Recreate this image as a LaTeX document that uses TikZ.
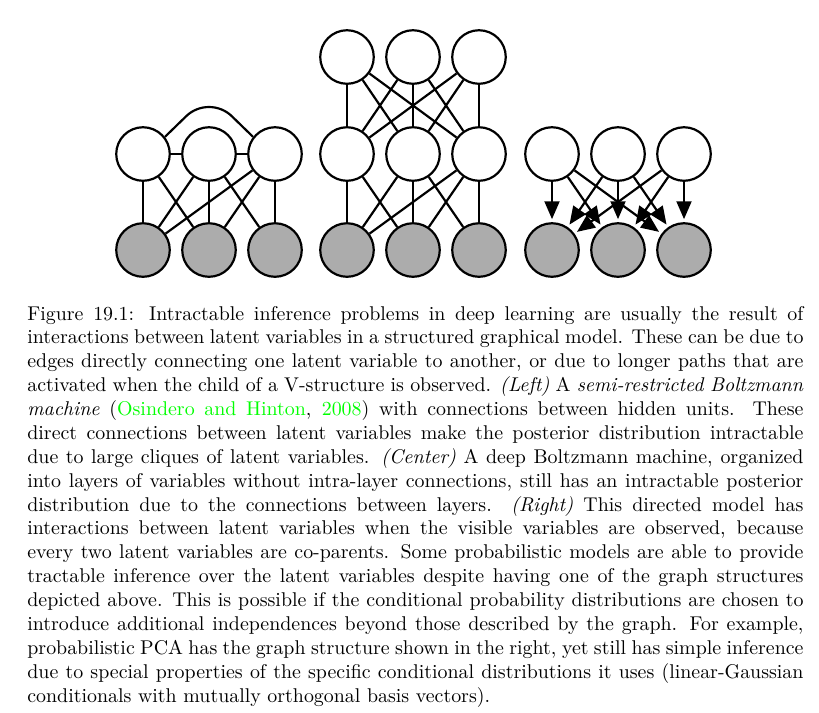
\documentclass[tikz,border=0pt]{standalone}
\usetikzlibrary{arrows.meta}
\definecolor{obs}{RGB}{172,172,172}
\definecolor{citegreen}{rgb}{0,1,0}
\newcommand\capline[1]{\hbox to 390pt{#1}}
\begin{document}
\begin{tikzpicture}[x=0.5025pt,y=-0.5025pt,
  hid/.style={circle,draw,line width=1.1pt,fill=white,minimum size=26.9pt,inner sep=0pt},
  vis/.style={hid,fill=obs},
  edge/.style={line width=1.1pt},
  arr/.style={line width=1.1pt,-{Triangle[length=9pt,width=7.5pt]},shorten >=1.5pt}]
\useasboundingbox (0,0) rectangle (819,712);
% ---------- left: semi-restricted Boltzmann machine
\node[hid] (la) at (143,154) {};
\node[hid] (lb) at (209,154) {};
\node[hid] (lc) at (275,154) {};
\node[vis] (lx) at (143,250) {};
\node[vis] (ly) at (209,250) {};
\node[vis] (lz) at (275,250) {};
\draw[edge] (la) -- (lb);
\draw[edge] (lb) -- (lc);
\draw[edge,rounded corners=16pt] (la.38) -- (209,94) -- (lc.142);
\foreach \a/\b in {la/lx,la/ly,lb/lx,lb/ly,lb/lz,lc/lx,lc/ly,lc/lz}
  \draw[edge] (\a) -- (\b);
% ---------- center: deep Boltzmann machine
\node[hid] (ca) at (347,57) {};
\node[hid] (cb) at (413,57) {};
\node[hid] (cc) at (479,57) {};
\node[hid] (cd) at (347,154) {};
\node[hid] (ce) at (413,154) {};
\node[hid] (cf) at (479,154) {};
\node[vis] (cx) at (347,250) {};
\node[vis] (cy) at (413,250) {};
\node[vis] (cz) at (479,250) {};
\foreach \a in {ca,cb,cc}
  \foreach \b in {cd,ce,cf}
    \draw[edge] (\a) -- (\b);
\foreach \a/\b in {cd/cx,cd/cy,ce/cx,ce/cy,ce/cz,cf/cx,cf/cy,cf/cz}
  \draw[edge] (\a) -- (\b);
% ---------- right: directed model
\node[hid] (ra) at (552,154) {};
\node[hid] (rb) at (618,154) {};
\node[hid] (rc) at (684,154) {};
\node[vis] (rx) at (552,250) {};
\node[vis] (ry) at (618,250) {};
\node[vis] (rz) at (684,250) {};
\foreach \a in {ra,rb,rc}
  \foreach \b in {rx,ry,rz}
    \draw[arr] (\a) -- (\b);
% ---------- caption
\node[anchor=base west,inner sep=0pt] (cap) at (27,320) {\vtop{\baselineskip=12pt
\capline{Figure 19.1: Intractable inference problems in deep learning are usually the result of}
\capline{interactions between latent variables in a structured graphical model. These can be due to}
\capline{edges directly connecting one latent variable to another, or due to longer paths that are}
\capline{activated when the child of a V-structure is observed. \textit{(Left)} A \textit{semi-restricted Boltzmann}}
\capline{\textit{machine} (\textcolor{citegreen}{Osindero and Hinton}, \textcolor{citegreen}{2008}) with connections between hidden units. These}
\capline{direct connections between latent variables make the posterior distribution intractable}
\capline{due to large cliques of latent variables. \textit{(Center)} A deep Boltzmann machine, organized}
\capline{into layers of variables without intra-layer connections, still has an intractable posterior}
\capline{distribution due to the connections between layers. \textit{(Right)} This directed model has}
\capline{interactions between latent variables when the visible variables are observed, because}
\capline{every two latent variables are co-parents. Some probabilistic models are able to provide}
\capline{tractable inference over the latent variables despite having one of the graph structures}
\capline{depicted above. This is possible if the conditional probability distributions are chosen to}
\capline{introduce additional independences beyond those described by the graph. For example,}
\capline{probabilistic PCA has the graph structure shown in the right, yet still has simple inference}
\capline{due to special properties of the specific conditional distributions it uses (linear-Gaussian}
\hbox{conditionals with mutually orthogonal basis vectors).}}};
\end{tikzpicture}
\end{document}
